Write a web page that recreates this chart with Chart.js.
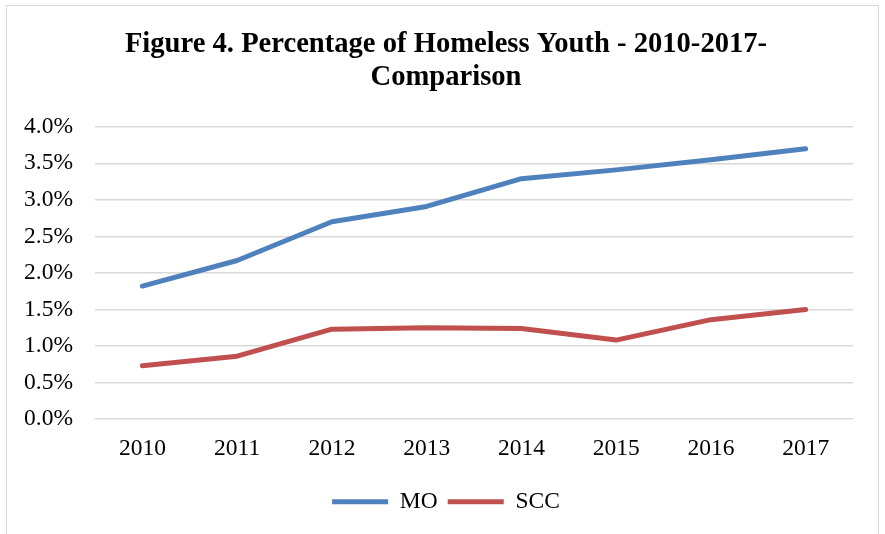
<!DOCTYPE html>
<html>
<head>
<meta charset="utf-8">
<script src="https://cdn.jsdelivr.net/npm/chart.js@4"></script>
<style>
  html, body { margin: 0; padding: 0; background: #fff; }
  #wrap { position: relative; width: 885px; height: 534px; overflow: hidden; }
  #frame { position: absolute; left: 6px; top: 5px; width: 873px; height: 600px; border: 1.5px solid #d9d9d9; box-sizing: border-box; }
  #chart { position: absolute; left: 0; top: 0; }
</style>
</head>
<body>
<div id="wrap">
  <div id="frame"></div>
  <canvas id="chart" width="885" height="534"></canvas>
</div>
<script>
// --- data ---
const years = ['2010', '2011', '2012', '2013', '2014', '2015', '2016', '2017'];
const moValues = [1.82, 2.17, 2.70, 2.91, 3.29, 3.41, 3.55, 3.70];
const sccValues = [0.73, 0.86, 1.23, 1.25, 1.24, 1.08, 1.36, 1.50];
const titleLines = ['Figure 4. Percentage of Homeless Youth - 2010-2017-', 'Comparison'];

const serif = "'Liberation Serif', 'Times New Roman', serif";

function lineSet(label, data, color) {
  return {
    label: label,
    data: data,
    borderColor: color,
    backgroundColor: color,
    borderWidth: 5,
    borderCapStyle: 'round',
    borderJoinStyle: 'round',
    pointRadius: 0,
    pointHoverRadius: 0,
    tension: 0,
    fill: false
  };
}

new Chart(document.getElementById('chart'), {
  type: 'line',
  data: {
    labels: years,
    datasets: [
      lineSet('MO', moValues, '#4f81bd'),
      lineSet('SCC', sccValues, '#c0504d')
    ]
  },
  options: {
    responsive: false,
    animation: false,
    layout: { padding: { left: 22, right: 15, top: 0, bottom: 10.5 } },
    scales: {
      x: {
        offset: true,
        grid: { display: false },
        border: { display: false },
        ticks: { color: '#000', font: { family: serif, size: 23.5 }, padding: 8, maxRotation: 0 },
        afterFit: scale => { scale.height = 61; }
      },
      y: {
        min: 0,
        max: 4,
        grid: { color: '#d9d9d9', lineWidth: 1.5, drawTicks: false },
        border: { display: false },
        ticks: {
          stepSize: 0.5,
          color: '#000',
          padding: 22,
          font: { family: serif, size: 23.5 },
          callback: v => v.toFixed(1) + '%'
        },
        afterFit: scale => { scale.width = 73; }
      },
      // empty right-hand axis, only there as a spacer so the legend centres like the reference
      spacer: {
        type: 'linear',
        position: 'right',
        grid: { display: false },
        border: { display: false },
        ticks: { display: false },
        afterFit: scale => { scale.width = 17; }
      }
    },
    plugins: {
      title: {
        display: true,
        text: titleLines,
        color: '#000',
        font: { family: serif, size: 28.6, weight: 'bold', lineHeight: 1.15 },
        padding: { top: 28, bottom: 33 }
      },
      legend: {
        position: 'bottom',
        labels: {
          color: '#000',
          font: { family: serif, size: 23.5 },
          usePointStyle: true,
          pointStyle: 'line',
          pointStyleWidth: 56,
          padding: 10
        }
      },
      tooltip: { enabled: false }
    }
  }
});
</script>
</body>
</html>
